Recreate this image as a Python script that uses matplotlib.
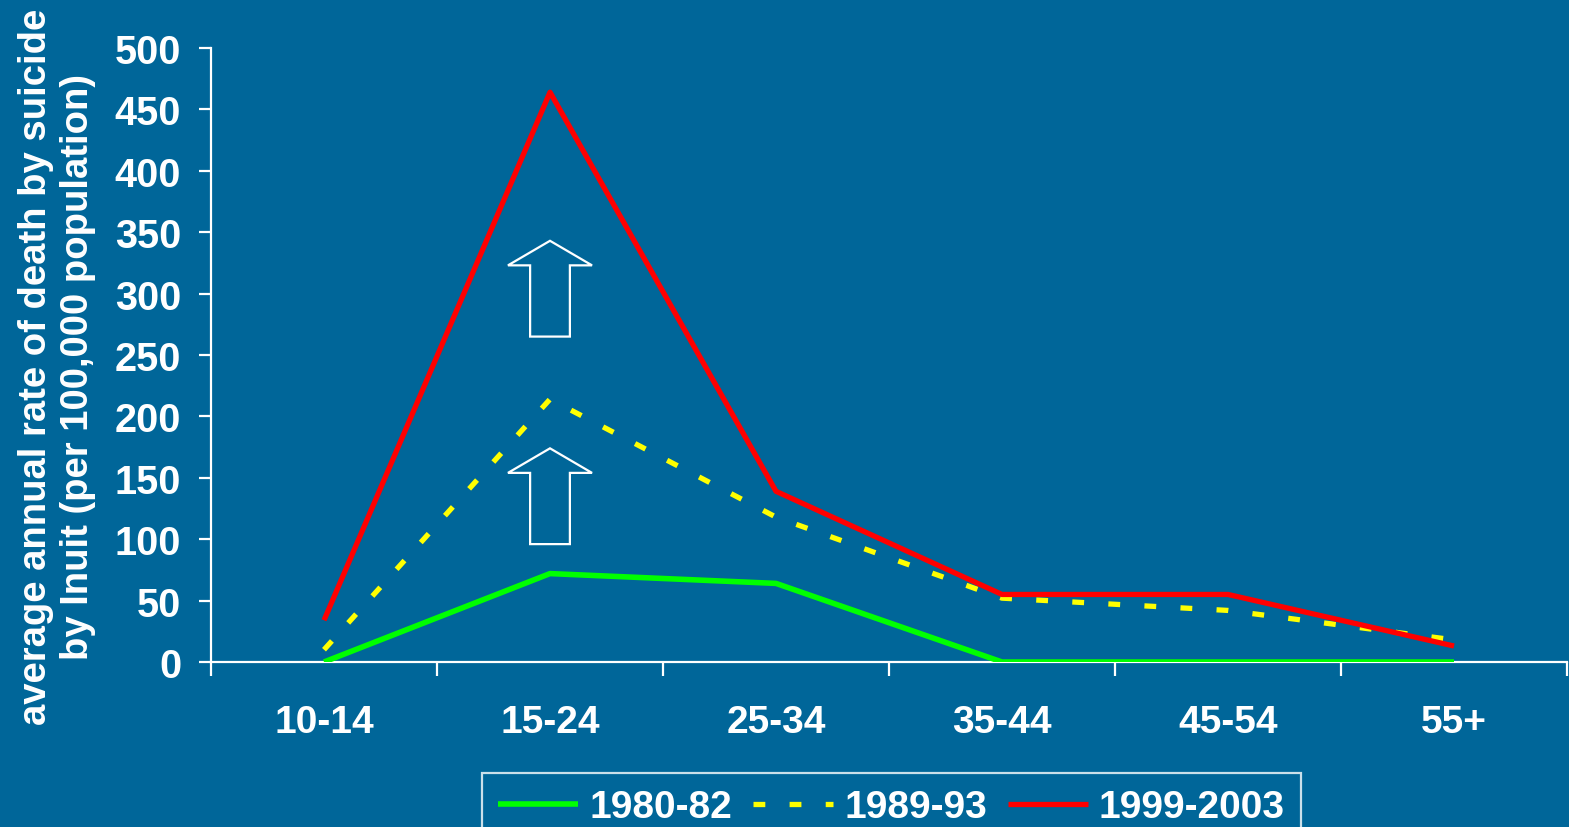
import numpy as np
import matplotlib
matplotlib.use('Agg')
import matplotlib.pyplot as plt
from matplotlib.patches import Polygon

BG = '#006699'

age_groups = ['10-14', '15-24', '25-34', '35-44', '45-54', '55+']
rate_1980 = [0, 72, 64, 0, 0, 0]
rate_1989 = [10, 214, 118, 52, 42, 18]
rate_1999 = [34, 464, 139, 55, 55, 13]
series_names = ['1980-82', '1989-93', '1999-2003']

plt.rcParams['font.family'] = ['Liberation Sans', 'DejaVu Sans']
plt.rcParams['font.weight'] = 'bold'
plt.rcParams['lines.scale_dashes'] = False

fig = plt.figure(figsize=(15.69, 8.28), dpi=100, facecolor=BG)
ax = fig.add_axes([211 / 1569, 1 - 663 / 828, 1356 / 1569, 614 / 828])
ax.set_facecolor(BG)

x = np.arange(len(age_groups))
ax.plot(x, rate_1980, color='#00FF00', lw=4, solid_capstyle='butt', label=series_names[0], zorder=3)
ax.plot(x, rate_1989, color='#FFFF00', lw=3.8, dashes=(8.5, 17.5), dash_capstyle='butt',
        label=series_names[1], zorder=4)
ax.plot(x, rate_1999, color='#FF0000', lw=3.8, solid_capstyle='butt', label=series_names[2], zorder=5)


def up_arrow(xc, y_tip, y_base, y_bot, head_w=0.186, shaft_w=0.088):
    pts = [(xc, y_tip), (xc + head_w, y_base), (xc + shaft_w, y_base),
           (xc + shaft_w, y_bot), (xc - shaft_w, y_bot), (xc - shaft_w, y_base),
           (xc - head_w, y_base)]
    ax.add_patch(Polygon(pts, closed=True, fill=False, edgecolor='white', lw=1.6, zorder=6))


# arrows showing the rise between periods
up_arrow(1.0, 343, 323, 265)
up_arrow(1.0, 174, 154, 96)

ax.set_xlim(-0.5, len(age_groups) - 0.5)
ax.set_ylim(0, 500)
ax.set_yticks(np.arange(0, 501, 50))
ax.set_xticks(np.arange(-0.5, len(age_groups), 1.0))
ax.set_xticklabels([])
ax.set_xticks(x, minor=True)
ax.set_xticklabels(age_groups, minor=True)

for side in ['top', 'right']:
    ax.spines[side].set_visible(False)
for side in ['left', 'bottom']:
    ax.spines[side].set_color('white')
    ax.spines[side].set_linewidth(1.6)

ax.tick_params(axis='y', which='major', colors='white', length=8.5, width=1.6,
               labelsize=28.5, pad=13)
ax.tick_params(axis='x', which='major', colors='white', length=10, width=1.6)
ax.tick_params(axis='x', which='minor', colors='white', length=0, labelsize=28, pad=30)
for lbl in ax.get_yticklabels() + ax.get_xticklabels(minor=True):
    lbl.set_fontweight('bold')

ax.set_ylabel('average annual rate of death by suicide\nby Inuit (per 100,000 population)',
              color='white', fontsize=27.5, fontweight='bold', linespacing=1.2)
ax.yaxis.set_label_coords(-0.085, 0.482)

leg = fig.legend(loc='upper left', bbox_to_anchor=(482 / 1569, 1 - 774 / 828), ncol=3,
                 frameon=True, fancybox=False, facecolor=BG, edgecolor='white',
                 handlelength=2.06, handletextpad=0.28, columnspacing=0.54,
                 borderpad=0.42, borderaxespad=0,
                 prop={'family': 'Liberation Sans', 'weight': 'bold', 'size': 28})
leg.get_frame().set_linewidth(1.6)
for t in leg.get_texts():
    t.set_color('white')

fig.savefig('out.png', dpi=100, facecolor=BG)
